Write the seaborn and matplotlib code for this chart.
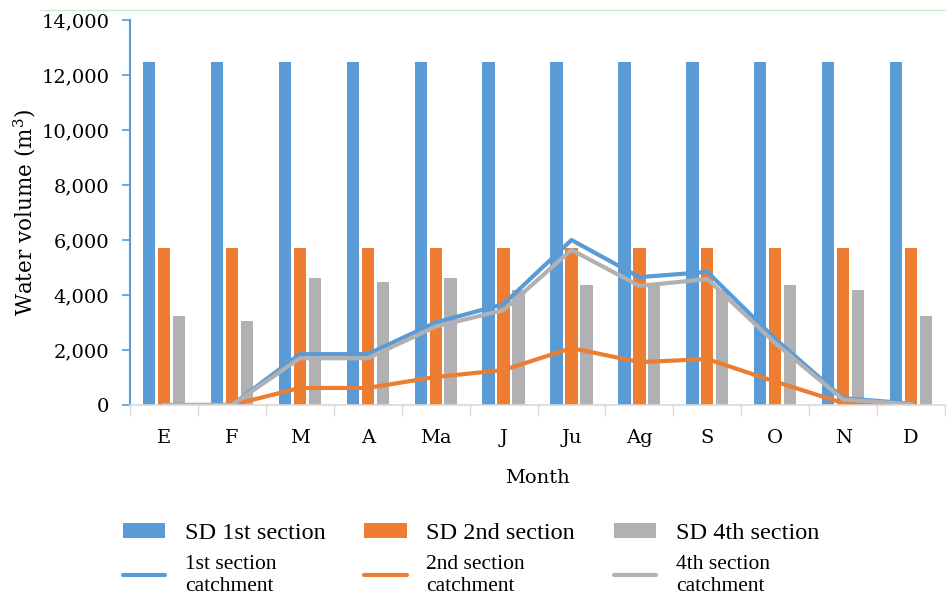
import numpy as np
import pandas as pd
import matplotlib
matplotlib.use('Agg')
import matplotlib.pyplot as plt
import seaborn as sns
from matplotlib.lines import Line2D
from matplotlib.patches import Patch
from matplotlib.ticker import FuncFormatter, FixedLocator

## ============================================================

months = ['E', 'F', 'M', 'A', 'Ma', 'J', 'Ju', 'Ag', 'S', 'O', 'N', 'D']

sd_1st = [12470] * 12
sd_2nd = [5710] * 12
sd_4th = [3240, 3050, 4620, 4470, 4620, 4180, 4360, 4330, 4180, 4360, 4200, 3240]

catch_1st = [0, 0, 1850, 1850, 3000, 3670, 6000, 4650, 4840, 2400, 250, 50]
catch_2nd = [0, 0, 620, 620, 1020, 1270, 2070, 1560, 1670, 850, 70, 0]
catch_4th = [0, 0, 1700, 1700, 2850, 3450, 5640, 4330, 4580, 2250, 200, 30]

bar_names = ['SD 1st section', 'SD 2nd section', 'SD 4th section']
line_names = ['1st section\ncatchment', '2nd section\ncatchment', '4th section\ncatchment']

colors = ['#5B9BD5', '#ED7D31', '#B1B1B4']

## ============================================================

df_bars = pd.DataFrame({'month': months * 3,
						'series': np.repeat(bar_names, len(months)),
						'value': sd_1st + sd_2nd + sd_4th})

plt.rcParams['font.family'] = ['DejaVu Serif']
plt.rcParams['mathtext.fontset'] = 'dejavuserif'

fig = plt.figure(figsize=(9.46, 6.0), dpi=100)
ax = fig.add_axes([130/946, 1-405/600, 1-130/946-0.001, (405-20)/600])

sns.barplot(data=df_bars, x='month', y='value', hue='series', order=months,
			hue_order=bar_names, palette=colors, width=0.66, gap=0.18,
			saturation=1, legend=False, ax=ax)

for vals, c in zip([catch_1st, catch_2nd, catch_4th], colors):
	sns.lineplot(x=months, y=vals, sort=False, color=c, lw=3, ax=ax, legend=False)

ax.set_xlim(-0.5, 11.5)
ax.set_ylim(0, 14000)
ax.set_yticks(np.arange(0, 14001, 2000))
ax.yaxis.set_major_formatter(FuncFormatter(lambda v, p: '{:,.0f}'.format(v)))
ax.xaxis.set_minor_locator(FixedLocator(np.arange(-0.5, 12, 1)))
ax.tick_params(axis='x', which='major', length=0, labelsize=14, pad=17)
ax.tick_params(axis='x', which='minor', length=8, color='#D9D9D9', width=1)
ax.tick_params(axis='y', length=6, color='#5B9BD5', width=1.2, labelsize=14, pad=9)

sns.despine(ax=ax, right=True, top=True)
ax.spines['left'].set_color('#5B9BD5')
ax.spines['left'].set_linewidth(1.5)
ax.spines['bottom'].set_color('#D9D9D9')
ax.spines['bottom'].set_linewidth(1.2)

ax.set_xlabel('Month', fontsize=14, labelpad=16)
ax.set_ylabel('Water volume (m$^3$)', fontsize=15.5, labelpad=2)

handles = []
labels = []
for i in range(3):
	handles.append(Patch(facecolor=colors[i], edgecolor='none'))
	labels.append(bar_names[i])
	handles.append(Line2D([0], [0], color=colors[i], lw=3, solid_capstyle='round'))
	labels.append(line_names[i])

leg = fig.legend(handles, labels, ncol=3, loc='upper left',
				 bbox_to_anchor=(113/946, 1-513/600), frameon=False,
				 prop={'family': 'Liberation Serif', 'size': 17.5},
				 handlelength=1.75, handleheight=0.6,
				 handletextpad=0.8, columnspacing=1.6, labelspacing=0.45,
				 borderaxespad=0)
for i, t in enumerate(leg.get_texts()):
	if i % 2 == 1:
		t.set_fontsize(15.5)
		t.set_linespacing(1.25)

fig.add_artist(Line2D([40/946, 1], [1-10/600, 1-10/600], color='#C6EFCE', lw=1))

fig.savefig('out.png', dpi=100)
